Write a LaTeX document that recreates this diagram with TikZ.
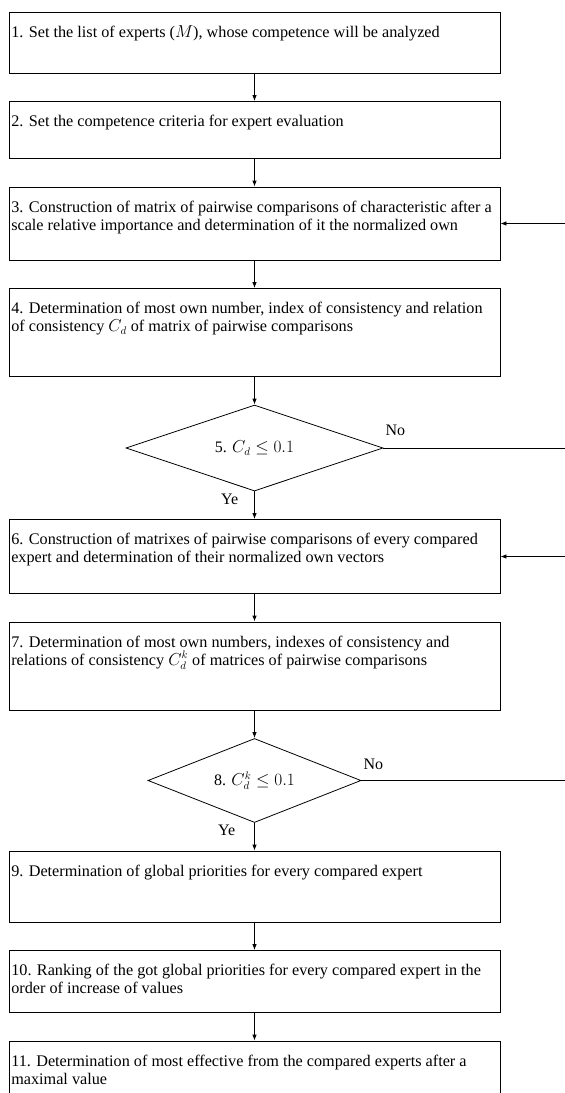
\documentclass[tikz,border=0pt]{standalone}
\usepackage{fontspec}
\setmainfont{Liberation Serif}
\usetikzlibrary{shapes,arrows.meta,positioning}

\begin{document}
\begin{tikzpicture}[x=1pt, y=1pt, node distance=27.7pt, >={Latex[length=6pt, width=4.5pt]},
    stepbox/.style={rectangle, draw, line width=0.8pt, minimum width=491pt, inner sep=0pt},
    steptext/.style={anchor=north west, align=left, inner sep=0pt, xshift=2.5pt, yshift=-14pt,
        font=\fontsize{16.2}{18}\selectfont},
    check/.style={diamond, aspect=3, draw, line width=0.8pt, inner sep=0pt, font=\fontsize{16}{18}\selectfont},
    answer/.style={inner sep=1pt, font=\fontsize{16}{18}\selectfont},
    flow/.style={->, line width=0.8pt}]
    \useasboundingbox (0,0) rectangle (565,-1093);

    % boxes and checks
    \node[stepbox, minimum height=61pt] (s1) at (254.5,-42.5) {};
    \node[stepbox, minimum height=57pt, below=of s1] (s2) {};
    \node[stepbox, minimum height=73pt, below=of s2] (s3) {};
    \node[stepbox, minimum height=88pt, below=of s3] (s4) {};
    \node[check, minimum width=257pt, minimum height=86pt, below=of s4] (d5) {5. $C_d \le 0.1$};
    \node[stepbox, minimum height=74pt, below=of d5] (s6) {};
    \node[stepbox, minimum height=88pt, below=of s6] (s7) {};
    \node[check, minimum width=213pt, minimum height=84pt, below=of s7] (d8) {8. $C^k_d \le 0.1$};
    \node[stepbox, minimum height=71pt, below=of d8] (s9) {};
    \node[stepbox, minimum height=62pt, below=of s9] (s10) {};
    \node[stepbox, minimum height=70pt, below=of s10] (s11) {};

    % texts
    \node[steptext] (t1) at (s1.north west) {1. Set the list of experts ($M$), whose competence will be analyzed};
    \node[steptext] (t2) at (s2.north west) {2. Set the competence criteria for expert evaluation};
    \node[steptext] (t3) at (s3.north west) {3. Construction of matrix of pairwise comparisons of characteristic after a\\scale relative importance and determination of it the normalized own};
    \node[steptext] (t4) at (s4.north west) {4. Determination of most own number, index of consistency and relation\\of consistency $C_d$ of matrix of pairwise comparisons};
    \node[steptext] (t6) at (s6.north west) {6. Construction of matrixes of pairwise comparisons of every compared\\expert and determination of their normalized own vectors};
    \node[steptext] (t7) at (s7.north west) {7. Determination of most own numbers, indexes of consistency and\\relations of consistency $C^k_d$ of matrices of pairwise comparisons};
    \node[steptext] (t9) at (s9.north west) {9. Determination of global priorities for every compared expert};
    \node[steptext] (t10) at (s10.north west) {10. Ranking of the got global priorities for every compared expert in the\\order of increase of values};
    \node[steptext] (t11) at (s11.north west) {11. Determination of most effective from the compared experts after a\\maximal value};

    % answers
    \node[answer, anchor=south west, xshift=1pt, yshift=11pt] (no5) at (d5.east) {No};
    \node[answer, anchor=north east, xshift=-15pt, yshift=-1pt] (ye5) at (d5.south) {Ye};
    \node[answer, anchor=south west, xshift=1pt, yshift=10pt] (no8) at (d8.east) {No};
    \node[answer, anchor=north east, xshift=-18pt, yshift=-1pt] (ye8) at (d8.south) {Ye};

    % connectors
    \draw[flow] (s1) -- (s2);
    \draw[flow] (s2) -- (s3);
    \draw[flow] (s3) -- (s4);
    \draw[flow] (s4) -- (d5);
    \draw[flow] (d5) -- (s6);
    \draw[flow] (s6) -- (s7);
    \draw[flow] (s7) -- (d8);
    \draw[flow] (d8) -- (s9);
    \draw[flow] (s9) -- (s10);
    \draw[flow] (s10) -- (s11);
    \draw[flow] (d5.east) -| ([xshift=75pt]s3.east) -- (s3.east);
    \draw[flow] (d8.east) -| ([xshift=75pt]s6.east) -- (s6.east);
\end{tikzpicture}
\end{document}
